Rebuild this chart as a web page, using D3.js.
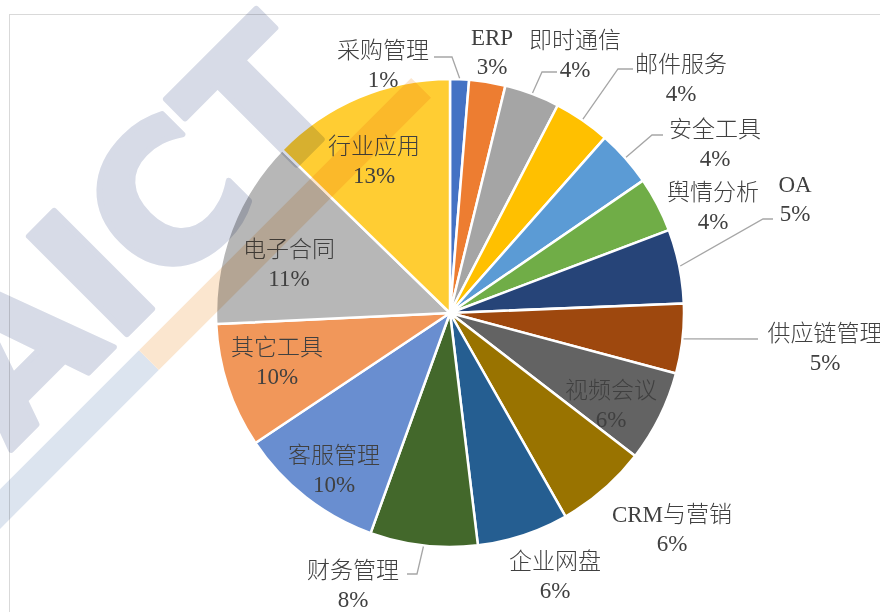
<!DOCTYPE html>
<html>
<head>
<meta charset="utf-8">
<script src="https://cdn.jsdelivr.net/npm/d3@7"></script>
<style>
  body { margin: 0; background: #fff; }
  svg { display: block; }
</style>
</head>
<body>
<script>
var categories = ["采购管理", "ERP", "即时通信", "邮件服务", "安全工具", "舆情分析", "OA", "供应链管理",
                  "视频会议", "CRM与营销", "企业网盘", "财务管理", "客服管理", "其它工具", "电子合同", "行业应用"];
var shares = [1.3, 2.5, 3.8, 3.9, 3.9, 3.8, 5.1, 4.8, 6.3, 6.3, 6.3, 7.4, 10.1, 8.6, 13.0, 12.7];
var pctLabels = ["1%", "3%", "4%", "4%", "4%", "4%", "5%", "5%", "6%", "6%", "6%", "8%", "10%", "10%", "11%", "13%"];

var colors = ["#4472C4", "#ED7D31", "#A5A5A5", "#FFC000", "#5B9BD5", "#70AD47", "#264478", "#9E480E",
              "#636363", "#997300", "#255E91", "#43682B", "#698ED0", "#F1975A", "#B7B7B7", "#FFCD33"];

// label anchors (centre x, first baseline) relative to the pie centre
var labelAt = [[-67, -255], [42, -268], [125, -265], [231, -241], [265, -176], [263, -113], [345, -121], [375, 28],
               [161, 85], [222, 209], [105, 256], [-97, 265], [-116, 150], [-173, 42], [-161, -56], [-76, -159]];

// leader lines: slice index, elbow and end (relative to centre)
var leaders = [
  {i: 0, elbow: [2, -256], end: [-16, -256]},
  {i: 2, elbow: [92, -241], end: [107, -241]},
  {i: 3, elbow: [168, -244], end: [183, -244]},
  {i: 4, elbow: [202, -178], end: [213, -178]},
  {i: 6, elbow: [313, -94], end: [323, -94]},
  {i: 7, elbow: [308, 26], end: [308, 26]},
  {i: 11, elbow: [-33, 261], end: [-43, 261]}
];

var width = 880, height = 612;
var cx = 450, cy = 313, radius = 234;

var svg = d3.select("body")
    .append("svg")
    .attr("width", width)
    .attr("height", height);

// chart area border
svg.append("rect")
    .attr("x", 9.5).attr("y", 14.5)
    .attr("width", 1000).attr("height", 1000)
    .attr("fill", "none")
    .attr("stroke", "#D9D9D9")
    .attr("stroke-width", 1);

var g = svg.append("g")
    .attr("transform", "translate(" + cx + "," + cy + ")");

var pie = d3.pie().sort(null).value(function(d) { return d; });
var arcs = pie(shares);
var arc = d3.arc().innerRadius(0).outerRadius(radius);

g.selectAll(".slice")
    .data(arcs)
    .enter().append("path")
    .attr("class", "slice")
    .attr("d", arc)
    .attr("fill", function(d, i) { return colors[i]; })
    .attr("stroke", "#fff")
    .attr("stroke-width", 2.5)
    .attr("stroke-linejoin", "round");

// watermark, multiplied over the pie
var wm = svg.append("g")
    .style("mix-blend-mode", "multiply")
    .attr("transform", "translate(-88,549) rotate(-45)");

wm.append("text")
    .attr("x", 0).attr("y", 0)
    .attr("font-family", "DejaVu Sans")
    .attr("font-weight", "bold")
    .attr("font-size", 190)
    .attr("fill", "#D7DBE7")
    .attr("stroke", "#D7DBE7")
    .attr("stroke-width", 6)
    .attr("stroke-linejoin", "round")
    .text("CAICT");

wm.append("rect")
    .attr("x", -200).attr("y", 20)
    .attr("width", 501).attr("height", 28)
    .attr("fill", "#DCE4EF");
wm.append("rect")
    .attr("x", 301).attr("y", 20)
    .attr("width", 385).attr("height", 28)
    .attr("fill", "#FBE6CF");

// leader lines
var outer = d3.arc().innerRadius(radius + 1).outerRadius(radius + 1);
g.selectAll(".leader")
    .data(leaders)
    .enter().append("polyline")
    .attr("class", "leader")
    .attr("points", function(d) {
        var p = outer.centroid(arcs[d.i]);
        return [p, d.elbow, d.end].map(function(q) { return q.join(","); }).join(" ");
    })
    .attr("fill", "none")
    .attr("stroke", "#A6A6A6")
    .attr("stroke-width", 1.3);

// labels
var labels = g.selectAll(".label")
    .data(categories)
    .enter().append("text")
    .attr("class", "label")
    .attr("text-anchor", "middle")
    .attr("font-family", "'Liberation Serif', 'Noto Sans CJK SC', serif")
    .attr("font-size", "23px")
    .attr("font-weight", 300)
    .attr("fill", "#404040");

labels.append("tspan")
    .attr("x", function(d, i) { return labelAt[i][0]; })
    .attr("y", function(d, i) { return labelAt[i][1]; })
    .text(function(d) { return d; });

labels.append("tspan")
    .attr("x", function(d, i) { return labelAt[i][0]; })
    .attr("y", function(d, i) { return labelAt[i][1] + 29; })
    .text(function(d, i) { return pctLabels[i]; });
</script>
</body>
</html>
